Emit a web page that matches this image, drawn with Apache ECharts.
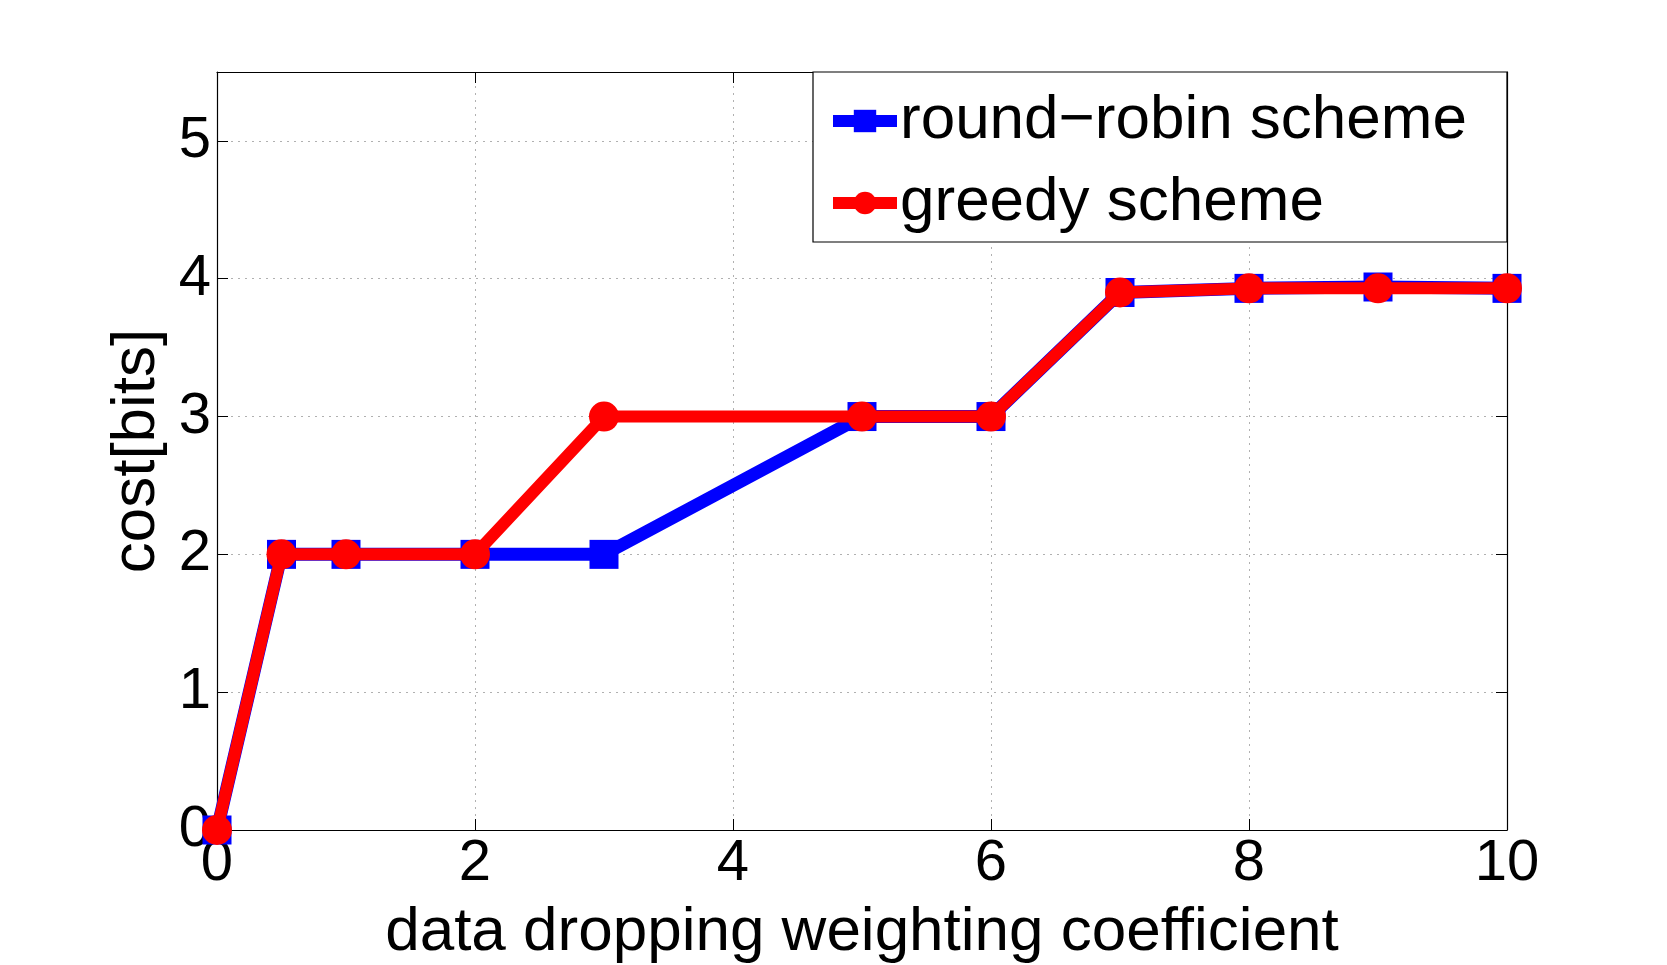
<!DOCTYPE html>
<html>
<head>
<meta charset="utf-8">
<script src="https://cdn.jsdelivr.net/npm/echarts@6/dist/echarts.min.js"></script>
<style>
html, body { margin: 0; padding: 0; background: #fff; }
#chart { width: 1667px; height: 965px; }
</style>
</head>
<body>
<div id="chart"></div>
<script>
var xValues = [0, 0.5, 1, 2, 3, 5, 6, 7, 8, 9, 10]
var roundRobin = [0, 2, 2, 2, 2, 3, 3, 3.9, 3.93, 3.94, 3.93]
var greedy = [0, 2, 2, 2, 3, 3, 3, 3.9, 3.93, 3.93, 3.93]
var seriesNames = ['round\u2212robin scheme', 'greedy scheme']

function pairs(xs, ys) {
  return xs.map(function(x, i) { return [x, ys[i]] })
}

var font = 'Liberation Sans'
var tickStyle = { show: true, inside: true, length: 11, lineStyle: { color: '#000', width: 1 } }
var axisLineStyle = { show: true, onZero: false, lineStyle: { color: '#000', width: 1.2 } }
var gridStyle = { show: true, lineStyle: { color: '#b0b0b0', type: [2, 5], width: 1 } }

var option = {
  animation: false,
  backgroundColor: '#fff',
  grid: {
    left: 217,
    top: 72,
    width: 1290,
    height: 758,
    containLabel: false,
    outerBoundsMode: 'none'
  },
  legend: {
    orient: 'vertical',
    left: 813,
    top: 72,
    padding: [18, 40, 8, 14],
    itemGap: 20,
    itemWidth: 64,
    itemHeight: 28,
    borderColor: '#000',
    borderWidth: 1.2,
    backgroundColor: '#fff',
    lineStyle: { width: 12 },
    textStyle: { fontFamily: font, fontSize: 62, color: '#000', padding: [0, 0, 0, -2] },
    data: seriesNames
  },
  xAxis: [
    {
      type: 'value',
      min: 0,
      max: 10,
      interval: 2,
      name: 'data dropping weighting coefficient',
      nameLocation: 'middle',
      nameGap: 72,
      nameTextStyle: { fontFamily: font, fontSize: 62, color: '#000' },
      axisLine: axisLineStyle,
      axisTick: tickStyle,
      splitLine: gridStyle,
      axisLabel: { fontFamily: font, fontSize: 58, color: '#000', margin: 5 }
    },
    {
      type: 'value',
      position: 'top',
      min: 0,
      max: 10,
      interval: 2,
      axisLine: axisLineStyle,
      axisTick: tickStyle,
      splitLine: { show: false },
      axisLabel: { show: false }
    }
  ],
  yAxis: [
    {
      type: 'value',
      min: 0,
      max: 5.5,
      interval: 1,
      name: 'cost[bits]',
      nameLocation: 'middle',
      nameGap: 48,
      nameTextStyle: { fontFamily: font, fontSize: 62, color: '#000' },
      axisLine: axisLineStyle,
      axisTick: tickStyle,
      splitLine: gridStyle,
      axisLabel: { fontFamily: font, fontSize: 58, color: '#000', margin: 6, showMaxLabel: false }
    },
    {
      type: 'value',
      position: 'right',
      min: 0,
      max: 5.5,
      interval: 1,
      axisLine: axisLineStyle,
      axisTick: tickStyle,
      splitLine: { show: false },
      axisLabel: { show: false }
    }
  ],
  series: [
    {
      name: seriesNames[0],
      type: 'line',
      data: pairs(xValues, roundRobin),
      symbol: 'rect',
      symbolSize: 29,
      lineStyle: { color: '#0000ff', width: 13 },
      itemStyle: { color: '#0000ff' },
      z: 2
    },
    {
      name: seriesNames[1],
      type: 'line',
      data: pairs(xValues, greedy),
      symbol: 'circle',
      symbolSize: 30,
      lineStyle: { color: '#ff0000', width: 12 },
      itemStyle: { color: '#ff0000' },
      z: 3
    }
  ]
}

var chart = echarts.init(document.getElementById('chart'))
chart.setOption(option)
</script>
</body>
</html>
